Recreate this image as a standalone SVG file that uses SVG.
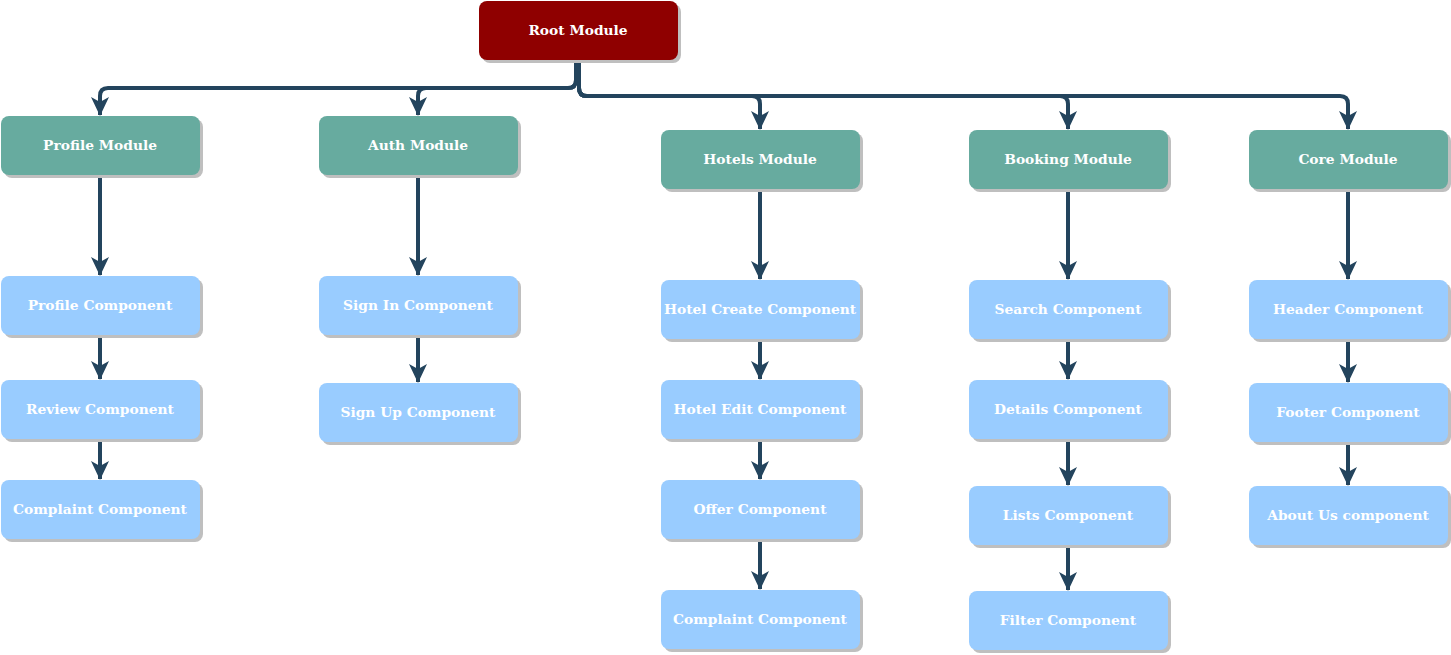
<svg xmlns="http://www.w3.org/2000/svg" width="1451" height="655" viewBox="0 0 1451 655">
<defs>
<marker id="arr" markerUnits="userSpaceOnUse" markerWidth="20" markerHeight="20" viewBox="0 0 20 20" refX="18" refY="10" orient="auto" overflow="visible">
<path d="M0,1 L19,10 L0,19 L5,10 Z" fill="#23445D"/>
</marker>
</defs>
<style>
.sh{fill:#BFBFBF}
.root{fill:#8F0000}
.mod{fill:#67AB9F}
.cmp{fill:#99CCFF}
text{font-family:"DejaVu Serif",serif;font-weight:bold;font-size:13.8px;fill:#FFFFFF;text-anchor:middle;dominant-baseline:central}
.e{fill:none;stroke:#23445D;stroke-width:4;stroke-linejoin:round;marker-end:url(#arr)}
</style>
<g id="connectors">
<path class="e" d="M576,60 V80 Q576,88 568,88 H108 Q100,88 100,96 V115"/>
<path class="e" d="M576,60 V80 Q576,88 568,88 H426 Q418,88 418,96 V115"/>
<path class="e" d="M579,60 V88 Q579,96 587,96 H752 Q760,96 760,104 V129"/>
<path class="e" d="M579,60 V88 Q579,96 587,96 H1060 Q1068,96 1068,104 V129"/>
<path class="e" d="M579,60 V88 Q579,96 587,96 H1340 Q1348,96 1348,104 V129"/>
<path class="e" d="M100,176 V275"/>
<path class="e" d="M100,336 V379"/>
<path class="e" d="M100,440 V479"/>
<path class="e" d="M418,176 V275"/>
<path class="e" d="M418,336 V382"/>
<path class="e" d="M760,190 V279"/>
<path class="e" d="M760,340 V379"/>
<path class="e" d="M760,440 V479"/>
<path class="e" d="M760,540 V589"/>
<path class="e" d="M1068,190 V279"/>
<path class="e" d="M1068,340 V379"/>
<path class="e" d="M1068,440 V485"/>
<path class="e" d="M1068,546 V590"/>
<path class="e" d="M1348,190 V279"/>
<path class="e" d="M1348,340 V382"/>
<path class="e" d="M1348,443 V485"/>
</g>
<g id="root"><rect class="sh" x="482" y="4" width="199" height="59" rx="8"/><rect class="root" x="479" y="1" width="199" height="59" rx="8"/><text x="578" y="30">Root Module</text></g>
<g id="profile-module"><rect class="sh" x="4" y="119" width="199" height="59" rx="8"/><rect class="mod" x="1" y="116" width="199" height="59" rx="8"/><text x="100" y="145">Profile Module</text></g>
<g id="auth-module"><rect class="sh" x="322" y="119" width="199" height="59" rx="8"/><rect class="mod" x="319" y="116" width="199" height="59" rx="8"/><text x="418" y="145">Auth Module</text></g>
<g id="hotels-module"><rect class="sh" x="664" y="133" width="199" height="59" rx="8"/><rect class="mod" x="661" y="130" width="199" height="59" rx="8"/><text x="760" y="159">Hotels Module</text></g>
<g id="booking-module"><rect class="sh" x="972" y="133" width="199" height="59" rx="8"/><rect class="mod" x="969" y="130" width="199" height="59" rx="8"/><text x="1068" y="159">Booking Module</text></g>
<g id="core-module"><rect class="sh" x="1252" y="133" width="199" height="59" rx="8"/><rect class="mod" x="1249" y="130" width="199" height="59" rx="8"/><text x="1348" y="159">Core Module</text></g>
<g id="profile-component"><rect class="sh" x="4" y="279" width="199" height="59" rx="8"/><rect class="cmp" x="1" y="276" width="199" height="59" rx="8"/><text x="100" y="305">Profile Component</text></g>
<g id="review-component"><rect class="sh" x="4" y="383" width="199" height="59" rx="8"/><rect class="cmp" x="1" y="380" width="199" height="59" rx="8"/><text x="100" y="409">Review Component</text></g>
<g id="complaint-component-1"><rect class="sh" x="4" y="483" width="199" height="59" rx="8"/><rect class="cmp" x="1" y="480" width="199" height="59" rx="8"/><text x="100" y="509">Complaint Component</text></g>
<g id="signin-component"><rect class="sh" x="322" y="279" width="199" height="59" rx="8"/><rect class="cmp" x="319" y="276" width="199" height="59" rx="8"/><text x="418" y="305">Sign In Component</text></g>
<g id="signup-component"><rect class="sh" x="322" y="386" width="199" height="59" rx="8"/><rect class="cmp" x="319" y="383" width="199" height="59" rx="8"/><text x="418" y="412">Sign Up Component</text></g>
<g id="hotel-create-component"><rect class="sh" x="664" y="283" width="199" height="59" rx="8"/><rect class="cmp" x="661" y="280" width="199" height="59" rx="8"/><text x="760" y="309">Hotel Create Component</text></g>
<g id="hotel-edit-component"><rect class="sh" x="664" y="383" width="199" height="59" rx="8"/><rect class="cmp" x="661" y="380" width="199" height="59" rx="8"/><text x="760" y="409">Hotel Edit Component</text></g>
<g id="offer-component"><rect class="sh" x="664" y="483" width="199" height="59" rx="8"/><rect class="cmp" x="661" y="480" width="199" height="59" rx="8"/><text x="760" y="509">Offer Component</text></g>
<g id="complaint-component-2"><rect class="sh" x="664" y="593" width="199" height="59" rx="8"/><rect class="cmp" x="661" y="590" width="199" height="59" rx="8"/><text x="760" y="619">Complaint Component</text></g>
<g id="search-component"><rect class="sh" x="972" y="283" width="199" height="59" rx="8"/><rect class="cmp" x="969" y="280" width="199" height="59" rx="8"/><text x="1068" y="309">Search Component</text></g>
<g id="details-component"><rect class="sh" x="972" y="383" width="199" height="59" rx="8"/><rect class="cmp" x="969" y="380" width="199" height="59" rx="8"/><text x="1068" y="409">Details Component</text></g>
<g id="lists-component"><rect class="sh" x="972" y="489" width="199" height="59" rx="8"/><rect class="cmp" x="969" y="486" width="199" height="59" rx="8"/><text x="1068" y="515">Lists Component</text></g>
<g id="filter-component"><rect class="sh" x="972" y="594" width="199" height="59" rx="8"/><rect class="cmp" x="969" y="591" width="199" height="59" rx="8"/><text x="1068" y="620">Filter Component</text></g>
<g id="header-component"><rect class="sh" x="1252" y="283" width="199" height="59" rx="8"/><rect class="cmp" x="1249" y="280" width="199" height="59" rx="8"/><text x="1348" y="309">Header Component</text></g>
<g id="footer-component"><rect class="sh" x="1252" y="386" width="199" height="59" rx="8"/><rect class="cmp" x="1249" y="383" width="199" height="59" rx="8"/><text x="1348" y="412">Footer Component</text></g>
<g id="aboutus-component"><rect class="sh" x="1252" y="489" width="199" height="59" rx="8"/><rect class="cmp" x="1249" y="486" width="199" height="59" rx="8"/><text x="1348" y="515">About Us component</text></g>
</svg>
